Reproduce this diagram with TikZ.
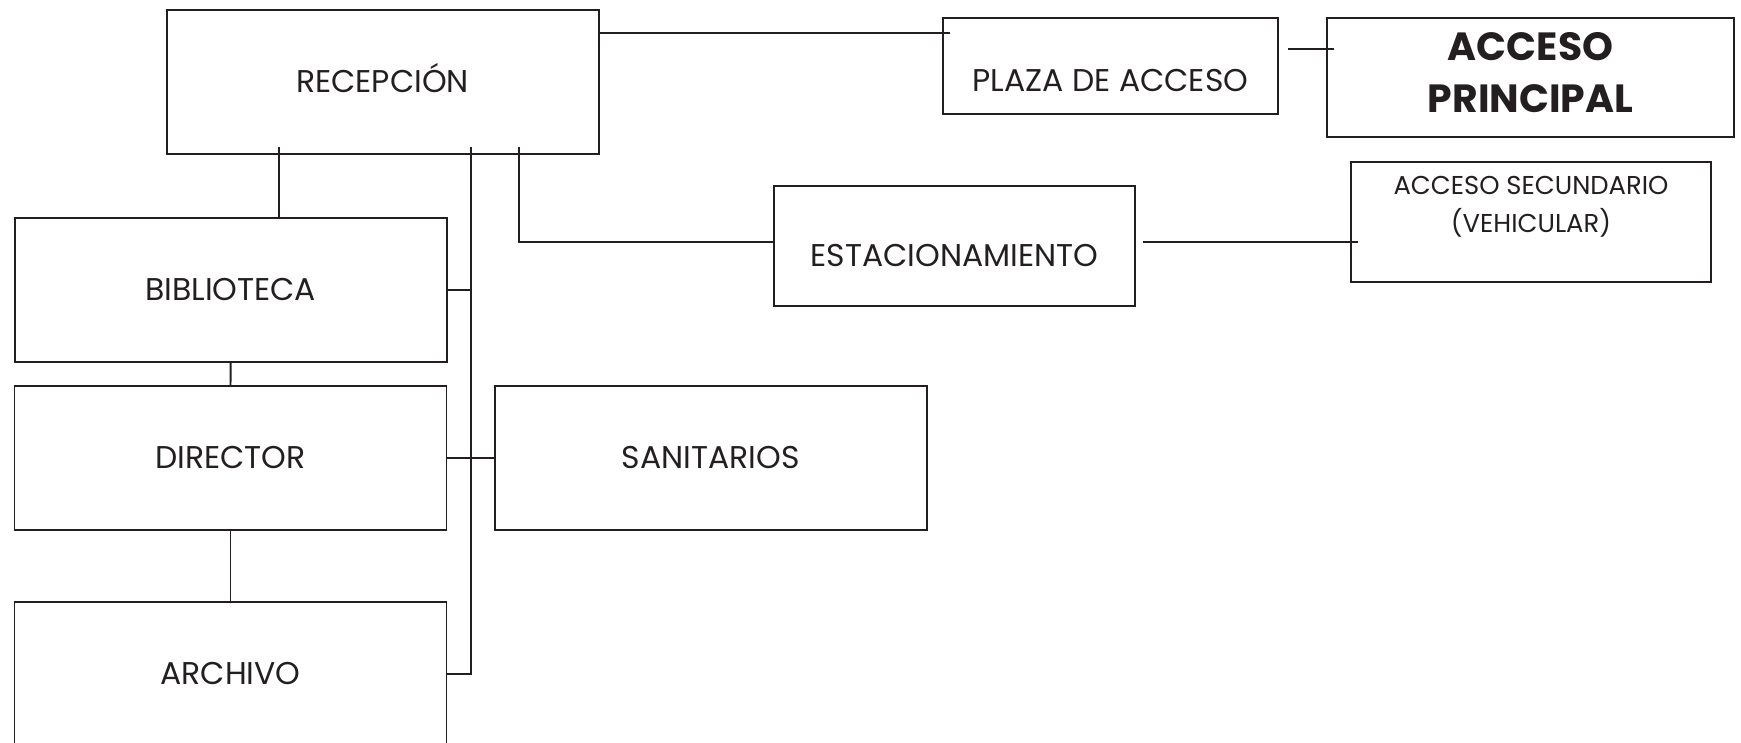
\documentclass[tikz,border=0pt]{standalone}
\usepackage{fontspec}
\setmainfont{Poppins}
\usetikzlibrary{positioning,calc}
\definecolor{ink}{RGB}{35,31,32}

\tikzset{
  room/.style={draw=ink,line width=0.55pt,inner sep=0pt,text=ink,
    minimum width=43.2mm,minimum height=14.4mm,
    font=\fontsize{8.95}{10}\selectfont,text height=2.15mm,text depth=0pt},
  link/.style={draw=ink,line width=0.55pt}
}

\begin{document}
\begin{tikzpicture}[x=1mm,y=1mm]
  \useasboundingbox (0,0) rectangle (174.1,-74.3);

  % rooms
  \node[room] (rec) at (38.26,-8.19) {RECEPCIÓN};
  \node[room,minimum width=33.5mm,minimum height=9.6mm,text height=5.15mm] (plaza) at (111.05,-6.6) {PLAZA DE ACCESO};
  \node[room,minimum width=40.7mm,minimum height=11.9mm,align=center,text height=,text depth=,
    font=\bfseries\fontsize{11.2}{14.6}\selectfont] (ap) at (153.05,-7.75) {ACCESO\\PRINCIPAL\rule[-1mm]{0pt}{0pt}};
  \node[room,minimum width=36.1mm,minimum height=12.0mm,text height=4.15mm] (estac) at (95.45,-24.6) {ESTACIONAMIENTO};
  \node[room,minimum width=36.0mm,minimum height=12.0mm,align=center,text height=,text depth=,
    font=\fontsize{7.35}{10.8}\selectfont] (asec) at (153.1,-22.2) {ACCESO SECUNDARIO\\(VEHICULAR)\rule[-3.6mm]{0pt}{0pt}};
  \node[room] (bib) at (23.07,-28.97) {BIBLIOTECA};
  \node[room] (dir) at (23.05,-45.8) {DIRECTOR};
  \node[room] (san) at (71.07,-45.8) {SANITARIOS};
  \node[room] (arch) at (23.05,-67.4) {ARCHIVO};

  % links
  \coordinate (trunk) at ($(dir.east)!0.5!(san.west)$);
  \coordinate (recR) at ([yshift=-2.37mm]rec.north east);
  \coordinate (plazaR) at ([xshift=0.9mm,yshift=-3.2mm]plaza.north east);
  \coordinate (estacR) at ([xshift=0.7mm,yshift=0.4mm]estac.east);
  \draw[link] (recR) -- ([xshift=0.8mm]plaza.west |- recR);
  \draw[link] (plazaR) -- ([xshift=0.8mm]ap.west |- plazaR);
  \draw[link] ([xshift=4.85mm]bib.north) -- ([xshift=4.85mm,yshift=0.8mm]bib.north |- rec.south);
  \draw[link] ([yshift=0.8mm]trunk |- rec.south) -- (trunk |- arch.east) -- (arch.east);
  \draw[link] (bib.east) -- (trunk |- bib.east);
  \draw[link] (dir.east) -- (san.west);
  \draw[link] ([xshift=4.8mm,yshift=0.8mm]trunk |- rec.south) |- ([yshift=0.4mm]estac.west);
  \draw[link] (estacR) -- ([xshift=0.8mm]asec.west |- estacR);
  \draw[link] (bib.south) -- (dir.north);
  \draw[link] (dir.south) -- (arch.north);
\end{tikzpicture}
\end{document}
